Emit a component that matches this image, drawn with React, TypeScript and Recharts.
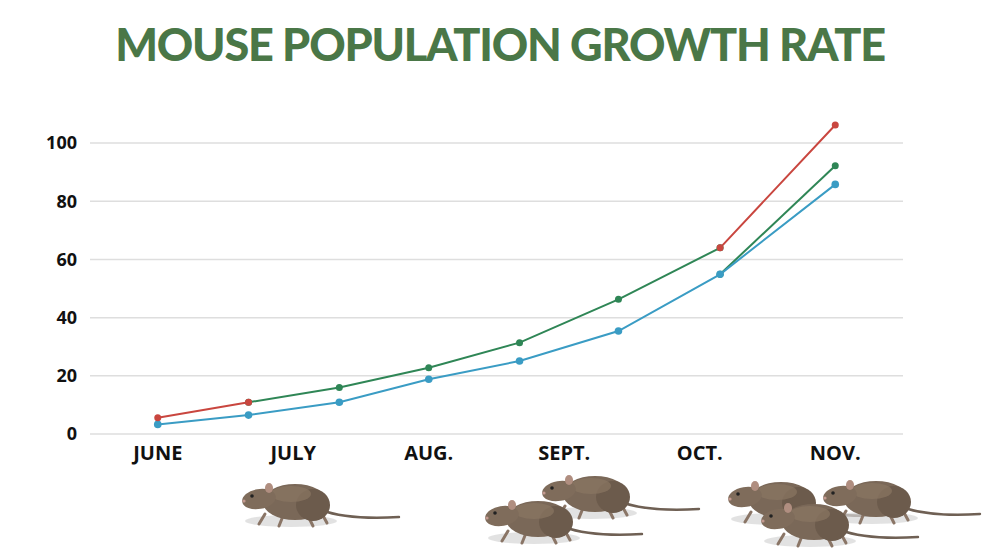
import { LineChart, Line, XAxis, YAxis, CartesianGrid } from 'recharts';

const monthLabels = ['JUNE', 'JULY', 'AUG.', 'SEPT.', 'OCT.', 'NOV.'];
const monthTicks = [0, 1, 2, 3, 4, 5];
const valueTicks = [0, 20, 40, 60, 80, 100];

// sample positions in "months since June"
const samplePos = [0, 0.67, 1.34, 2, 2.67, 3.4, 4.15, 5];
const redVals = [5.6, 10.9, null, null, null, null, 64, 106.2];
const greenVals = [null, 10.9, 16, 22.8, 31.4, 46.3, 64, null];
const greenLateVals = [null, null, null, null, null, null, 54.9, 92.2];
const blueVals = [3.3, 6.5, 10.9, 18.8, 25.1, 35.4, 54.9, 85.8];

const data = samplePos.map((m, i) => ({
  m,
  red: redVals[i],
  green: greenVals[i],
  greenLate: greenLateVals[i],
  blue: blueVals[i],
}));

const RED = '#c9463f';
const GREEN = '#2f8656';
const BLUE = '#3a9cc4';

// decorative mice, back ones first
const mice = [
  { x: 243, y: 480 },
  { x: 543, y: 472 },
  { x: 486, y: 497 },
  { x: 729, y: 478 },
  { x: 824, y: 477 },
  { x: 762, y: 500 },
];

function Mouse({ x, y }: { x: number; y: number }) {
  return (
    <g transform={`translate(${x},${y})`}>
      <ellipse cx={48} cy={41} rx={46} ry={6} fill="#d6d6d6" opacity={0.7} />
      <path d="M78 30 Q105 40 156 37" stroke="#6f6054" strokeWidth={2.4} fill="none" strokeLinecap="round" />
      <path d="M22 34 L16 44 M40 36 L36 46 M64 34 L70 46 M78 32 L84 43" stroke="#8a7566" strokeWidth={3} strokeLinecap="round" />
      <ellipse cx={52} cy={22} rx={32} ry={18} fill="#7a6858" />
      <ellipse cx={70} cy={25} rx={17} ry={16} fill="#6c5b4c" />
      <ellipse cx={48} cy={14} rx={20} ry={8} fill="#8a7662" opacity={0.7} />
      <ellipse cx={16} cy={19} rx={17} ry={10} fill="#7f6c5b" transform="rotate(-10 16 19)" />
      <ellipse cx={26} cy={8} rx={4} ry={5} fill="#b08e80" />
      <circle cx={9} cy={16} r={1.8} fill="#222" />
      <circle cx={1} cy={21} r={1.6} fill="#c49a90" />
    </g>
  );
}

export default function App() {
  return (
    <div style={{ position: 'absolute', left: 0, top: 0, width: 1000, height: 558, background: '#fff', overflow: 'hidden' }}>
      <div
        style={{
          position: 'absolute',
          top: 14,
          left: 0,
          width: 1000,
          textAlign: 'center',
          fontFamily: 'Lato, sans-serif',
          fontWeight: 900,
          fontSize: 45,
          letterSpacing: -1.2,
          lineHeight: '60px',
          color: '#4a7747',
        }}
      >
        MOUSE POPULATION GROWTH RATE
      </div>
      <div style={{ position: 'absolute', left: 0, top: 0 }}>
        <LineChart width={1000} height={558} data={data} margin={{ top: 114, right: 97, left: 0, bottom: 94 }}>
          <CartesianGrid horizontal vertical={false} horizontalValues={valueTicks} stroke="#dedede" strokeWidth={1.5} />
          <XAxis
            dataKey="m"
            type="number"
            domain={[-0.5, 5.5]}
            ticks={monthTicks}
            tickFormatter={(v: number) => monthLabels[v]}
            axisLine={false}
            tickLine={false}
            tickMargin={6}
            height={30}
            tick={{ fill: '#111', fontSize: 20, fontWeight: 700, fontFamily: '"Open Sans", sans-serif' }}
          />
          <YAxis
            type="number"
            domain={[0, 110]}
            ticks={valueTicks}
            axisLine={false}
            tickLine={false}
            width={90}
            tickMargin={7}
            tick={{ fill: '#111', fontSize: 18, fontWeight: 700, fontFamily: '"Open Sans", sans-serif' }}
          />
          <Line dataKey="green" stroke={GREEN} strokeWidth={2} dot={{ r: 3.5, fill: GREEN, stroke: GREEN, strokeWidth: 0 }} isAnimationActive={false} />
          <Line dataKey="greenLate" stroke={GREEN} strokeWidth={2} dot={{ r: 3.5, fill: GREEN, stroke: GREEN, strokeWidth: 0 }} isAnimationActive={false} />
          <Line dataKey="blue" stroke={BLUE} strokeWidth={2} dot={{ r: 3.8, fill: BLUE, stroke: BLUE, strokeWidth: 0 }} isAnimationActive={false} />
          <Line dataKey="red" stroke={RED} strokeWidth={2} dot={{ r: 3.5, fill: RED, stroke: RED, strokeWidth: 0 }} isAnimationActive={false} />
        </LineChart>
      </div>
      <svg width={1000} height={558} style={{ position: 'absolute', left: 0, top: 0, pointerEvents: 'none' }}>
        {mice.map((p, i) => (
          <Mouse key={i} x={p.x} y={p.y} />
        ))}
      </svg>
    </div>
  );
}
